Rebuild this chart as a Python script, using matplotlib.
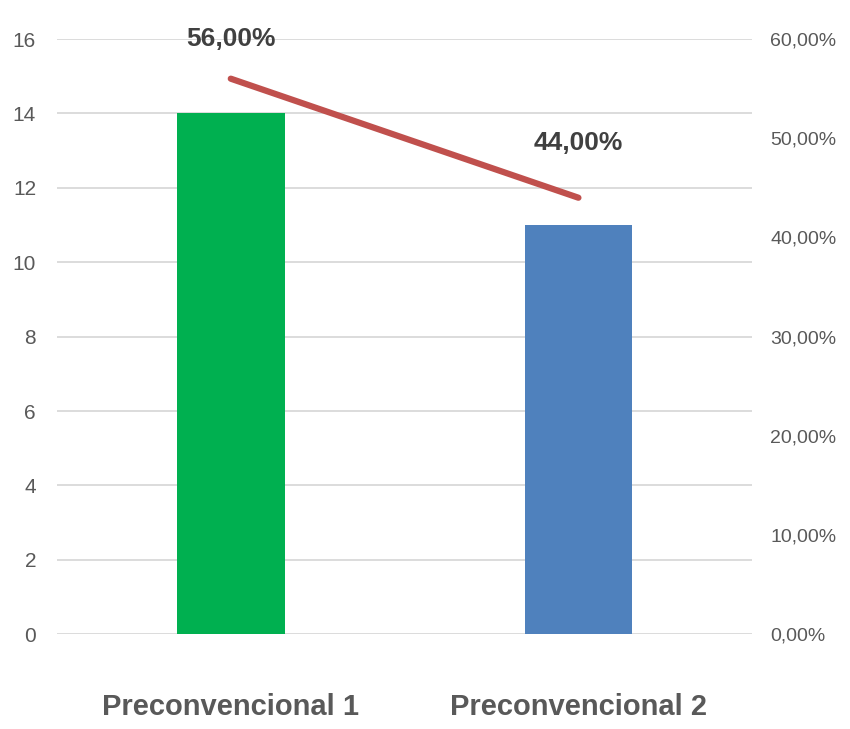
import matplotlib
matplotlib.use("Agg")
from matplotlib import pyplot as plt
from matplotlib.ticker import FuncFormatter

categories = ["Preconvencional 1", "Preconvencional 2"]
counts = [14, 11]
percents = [56.0, 44.0]
bar_colors = ["#00b050", "#4f81bd"]

plt.rcParams['font.family'] = ['Liberation Sans', 'DejaVu Sans']

fig = plt.figure(figsize=(8.5, 7.29), dpi=100)
ax = fig.add_axes([0.067, 0.130, 0.818, 0.8165])
x = list(range(len(categories)))
ax.bar(x, counts, width=0.31, color=bar_colors, zorder=3)
ax.set_xlim(-0.5, 1.5)
ax.set_ylim(0, 16)
ax.set_yticks(range(0, 17, 2))
ax.grid(axis='y', color='#d9d9d9', linewidth=1.3, zorder=0)
ax.set_xticks(x)
ax.set_xticklabels(categories, fontsize=21, fontweight='bold', color='#595959')
ax.tick_params(axis='x', length=0, pad=42)
ax.tick_params(axis='y', length=0, pad=15, labelsize=15, labelcolor='#595959')
for s in ax.spines.values():
    s.set_visible(False)

ax2 = ax.twinx()
ax2.plot(x, percents, color='#c0504d', linewidth=4.5, solid_capstyle='round', zorder=4)
ax2.set_ylim(0, 60)
ax2.set_yticks(range(0, 61, 10))
ax2.yaxis.set_major_formatter(FuncFormatter(lambda v, p: f"{v:.2f}%".replace('.', ',')))
ax2.tick_params(axis='y', length=0, pad=13, labelsize=14, labelcolor='#595959')
for s in ax2.spines.values():
    s.set_visible(False)

# label offsets above each line point, in points
offsets = [20, 31]
for xi, p, off in zip(x, percents, offsets):
    ax2.annotate(f"{p:.2f}%".replace('.', ','), (xi, p), xytext=(0, off),
                 textcoords='offset points', ha='center', va='bottom',
                 fontsize=19, fontweight='bold', color='#404040')

fig.savefig("out.png", dpi=100)
